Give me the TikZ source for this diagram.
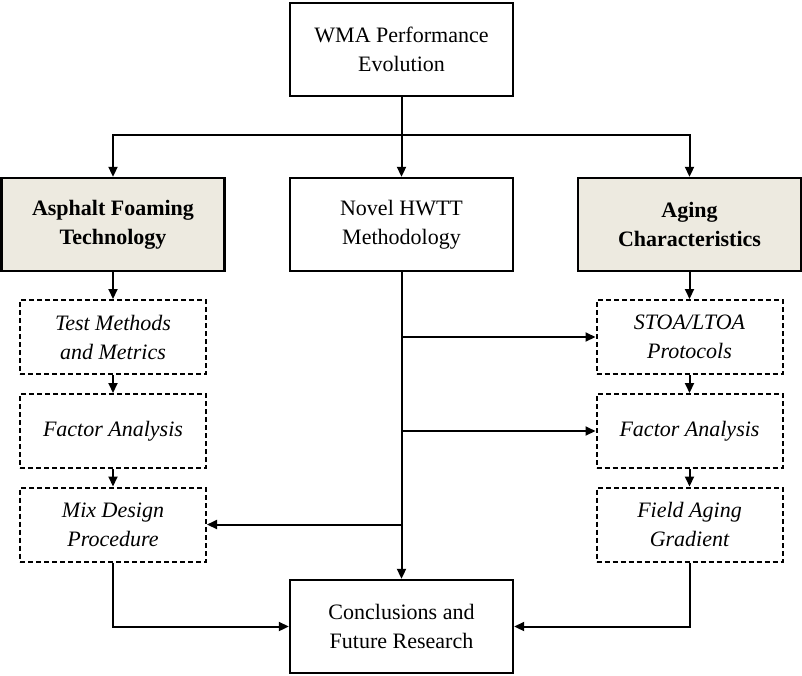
\documentclass[tikz,border=0pt]{standalone}
\usepackage{fontspec}
\setmainfont{Liberation Serif}
\usetikzlibrary{arrows.meta}
\definecolor{beige}{RGB}{237,234,224}
\tikzset{
  box/.style={draw=black, line width=2.4pt, rectangle, inner sep=0pt, align=center,
    minimum width=223pt, minimum height=93pt, font=\fontsize{22}{29}\selectfont},
  keybox/.style={box, fill=beige, font=\fontsize{22}{29}\selectfont\bfseries},
  subbox/.style={draw=black, line width=2pt, dash pattern=on 5pt off 3pt, rectangle, inner sep=0pt,
    align=center, minimum width=186pt, minimum height=74pt, font=\fontsize{22}{29}\selectfont\itshape},
  arr/.style={line width=2pt, -{Triangle[length=10pt,width=9pt]}},
  ln/.style={line width=2pt}
}
\begin{document}
\begin{tikzpicture}[x=1pt,y=-1pt]
\useasboundingbox (0,0) rectangle (802,675);
\node[box] (top) at (401.5,49.5) {WMA Performance\\Evolution};
\node[keybox] (left) at (113,224.5) {Asphalt Foaming\\Technology};
\node[box] (mid) at (401.5,224.5) {Novel HWTT\\Methodology};
\node[keybox] (right) at (689.5,224.5) {Aging\\Characteristics};
\node[subbox] (l1) at (113,337) {Test Methods\\and Metrics};
\node[subbox] (l2) at (113,431) {Factor Analysis};
\node[subbox] (l3) at (113,524.5) {Mix Design\\Procedure};
\node[subbox] (r1) at (689.5,337) {STOA/LTOA\\Protocols};
\node[subbox] (r2) at (689.5,431) {Factor Analysis};
\node[subbox] (r3) at (689.5,524.5) {Field Aging\\Gradient};
\node[box] (bot) at (401.5,626.5) {Conclusions and\\Future Research};
\coordinate (split) at (401.5,135);
\draw[ln] (top.south) -- (split);
\draw[arr] (split) -| (left.north);
\draw[arr] (split) -| (right.north);
\draw[arr] (split) -- (mid.north);
\draw[arr] (left) -- (l1);
\draw[arr] (l1) -- (l2);
\draw[arr] (l2) -- (l3);
\draw[arr] (right) -- (r1);
\draw[arr] (r1) -- (r2);
\draw[arr] (r2) -- (r3);
\draw[arr] (mid) -- (bot);
\draw[arr] (mid.south |- r1.west) -- (r1.west);
\draw[arr] (mid.south |- r2.west) -- (r2.west);
\draw[arr] (mid.south |- l3.east) -- (l3.east);
\draw[arr] (l3.south) |- (bot.west);
\draw[arr] (r3.south) |- (bot.east);
\end{tikzpicture}
\end{document}
